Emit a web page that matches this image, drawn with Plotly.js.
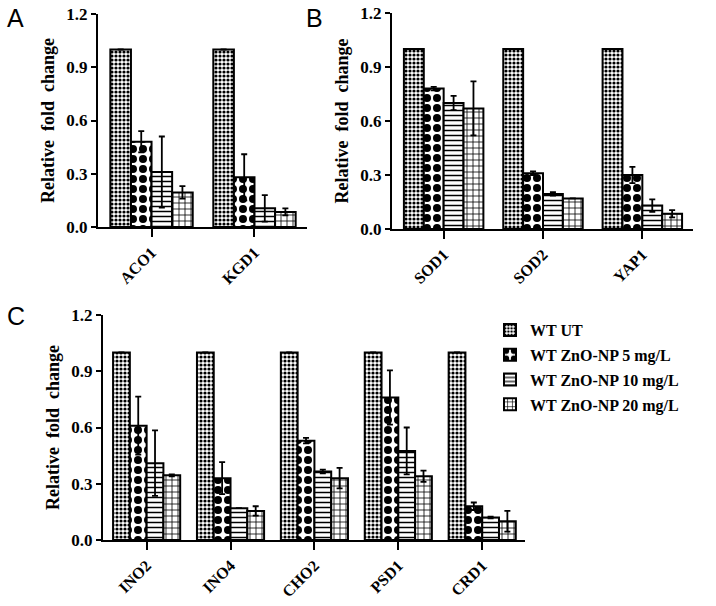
<!DOCTYPE html>
<html>
<head>
<meta charset="utf-8">
<script src="https://cdn.plot.ly/plotly-3.0.1.min.js"></script>
<style>html,body{margin:0;padding:0;background:#fff;}#chart{width:716px;height:606px;}</style>
</head>
<body>
<div id="chart"></div>
<script>
// ---- data ----
const seriesNames = ['WT UT', 'WT ZnO-NP 5 mg/L', 'WT ZnO-NP 10 mg/L', 'WT ZnO-NP 20 mg/L'];

const genesA = ['ACO1', 'KGD1'];
const valsA_UT  = [1.0, 1.0];
const valsA_5   = [0.48, 0.28];
const valsA_10  = [0.31, 0.105];
const valsA_20  = [0.195, 0.085];
const errA_UT   = [0, 0];
const errA_5    = [0.06, 0.13];
const errA_10   = [0.20, 0.075];
const errA_20   = [0.035, 0.02];

const genesB = ['SOD1', 'SOD2', 'YAP1'];
const valsB_UT  = [1.0, 1.0, 1.0];
const valsB_5   = [0.78, 0.31, 0.30];
const valsB_10  = [0.70, 0.195, 0.13];
const valsB_20  = [0.67, 0.17, 0.085];
const errB_UT   = [0, 0, 0];
const errB_5    = [0.01, 0.01, 0.045];
const errB_10   = [0.04, 0.01, 0.035];
const errB_20   = [0.15, 0, 0.02];

const genesC = ['INO2', 'INO4', 'CHO2', 'PSD1', 'CRD1'];
const valsC_UT  = [1.0, 1.0, 1.0, 1.0, 1.0];
const valsC_5   = [0.61, 0.33, 0.53, 0.76, 0.18];
const valsC_10  = [0.41, 0.17, 0.365, 0.475, 0.12];
const valsC_20  = [0.345, 0.155, 0.33, 0.34, 0.10];
const errC_UT   = [0, 0, 0, 0, 0];
const errC_5    = [0.155, 0.085, 0.015, 0.145, 0.02];
const errC_10   = [0.175, 0, 0.01, 0.125, 0.005];
const errC_20   = [0.005, 0.025, 0.055, 0.03, 0.055];

const yTickVals = [0, 0.3, 0.6, 0.9, 1.2];
const yTickText = ['0.0', '0.3', '0.6', '0.9', '1.2'];

// ---- styles ----
const patterns = [
  {shape: '.', size: 4, solidity: 0.5, fgcolor: '#000', bgcolor: '#fff', fillmode: 'replace', fgopacity: 1},
  {shape: '.', size: 10, solidity: 0.5, fgcolor: '#000', bgcolor: '#fff', fillmode: 'replace', fgopacity: 1},
  {shape: '-', size: 5, solidity: 0.3, fgcolor: '#000', bgcolor: '#fff', fillmode: 'replace', fgopacity: 1},
  {shape: '+', size: 6, solidity: 0.25, fgcolor: '#000', bgcolor: '#fff', fillmode: 'replace', fgopacity: 1}
];
const serif = '"Liberation Serif", "Times New Roman", serif';
const boldFont = (s) => ({family: serif, size: s, color: '#000', weight: 'bold'});
const sans = '"Liberation Sans", Arial, sans-serif';

function makeTraces(genes, vals, errs, xa, ya, showLegend) {
  return vals.map((v, i) => ({
    type: 'bar',
    name: seriesNames[i],
    legendgroup: 'g' + i,
    showlegend: showLegend,
    x: genes, y: v,
    xaxis: xa, yaxis: ya,
    marker: {color: '#fff', pattern: patterns[i], line: {color: '#000', width: 2}},
    error_y: {type: 'data', array: errs[i], visible: true, color: '#000', thickness: 1.8, width: 3}
  }));
}

const traces = [].concat(
  makeTraces(genesA, [valsA_UT, valsA_5, valsA_10, valsA_20], [errA_UT, errA_5, errA_10, errA_20], 'x', 'y', false),
  makeTraces(genesB, [valsB_UT, valsB_5, valsB_10, valsB_20], [errB_UT, errB_5, errB_10, errB_20], 'x2', 'y2', false),
  makeTraces(genesC, [valsC_UT, valsC_5, valsC_10, valsC_20], [errC_UT, errC_5, errC_10, errC_20], 'x3', 'y3', true)
);

const W = 716, H = 606;
const px = (a, b) => [a / W, b / W];
const py = (top, bottom) => [1 - bottom / H, 1 - top / H];

function xAxis(domain, yref, n) {
  return {
    domain: domain, anchor: yref, type: 'category',
    range: [-0.52, n - 0.49],
    showline: true, linecolor: '#000', linewidth: 2,
    ticks: 'outside', ticklen: 8, tickwidth: 2, tickcolor: '#000',
    tickangle: -45, tickfont: boldFont(16),
    showgrid: false, zeroline: false, fixedrange: true
  };
}
function yAxis(domain, xref) {
  return {
    domain: domain, anchor: xref,
    range: [0, 1.2],
    tickvals: yTickVals, ticktext: yTickText,
    showline: true, linecolor: '#000', linewidth: 2,
    ticks: 'outside', ticklen: 5, tickwidth: 2, tickcolor: '#000',
    tickfont: boldFont(17),
    title: {text: 'Relative\u00A0 fold\u00A0 change', font: boldFont(18), standoff: 7},
    showgrid: false, zeroline: false, fixedrange: true
  };
}

const layout = {
  width: W, height: H,
  margin: {l: 0, r: 0, t: 0, b: 0},
  paper_bgcolor: '#fff', plot_bgcolor: 'rgba(0,0,0,0)',
  barmode: 'group', bargap: 0.2, bargroupgap: 0,
  showlegend: true,
  xaxis: xAxis(px(98, 307), 'y', 2),
  yaxis: yAxis(py(14, 227), 'x'),
  xaxis2: xAxis(px(392, 693), 'y2', 3),
  yaxis2: yAxis(py(13, 229), 'x2'),
  xaxis3: xAxis(px(103, 525), 'y3', 5),
  yaxis3: yAxis(py(315, 540), 'x3'),
  legend: {
    x: 490 / W, y: 1 - 313 / H, xanchor: 'left', yanchor: 'top',
    font: boldFont(16), bgcolor: 'rgba(0,0,0,0)',
    traceorder: 'grouped', tracegroupgap: 1, itemwidth: 30
  },
  annotations: [
    {text: 'A', x: 5 / W, y: 1 - 18 / H, xref: 'paper', yref: 'paper', xanchor: 'left', yanchor: 'middle', showarrow: false, font: {family: sans, size: 25, color: '#000'}},
    {text: 'B', x: 304 / W, y: 1 - 18 / H, xref: 'paper', yref: 'paper', xanchor: 'left', yanchor: 'middle', showarrow: false, font: {family: sans, size: 25, color: '#000'}},
    {text: 'C', x: 5 / W, y: 1 - 316 / H, xref: 'paper', yref: 'paper', xanchor: 'left', yanchor: 'middle', showarrow: false, font: {family: sans, size: 25, color: '#000'}}
  ]
};

Plotly.newPlot('chart', traces, layout, {displayModeBar: false, staticPlot: true});
</script>
</body>
</html>
